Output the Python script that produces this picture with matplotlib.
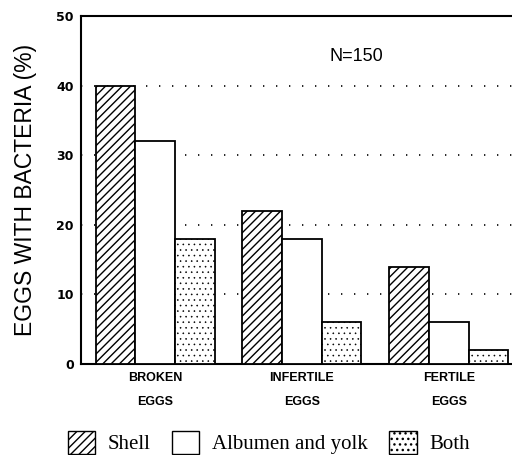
import matplotlib
matplotlib.use("Agg")
import matplotlib.pyplot as plt
from matplotlib.patches import Patch
import numpy as np

categories = ["BROKEN\nEGGS", "INFERTILE\nEGGS", "FERTILE\nEGGS"]
series_names = ["Shell", "Albumen and yolk", "Both"]
shell = [40, 22, 14]
albumen = [32, 18, 6]
both = [18, 6, 2]
yticks = [0, 10, 20, 30, 40, 50]

plt.rcParams['hatch.linewidth'] = 1.0
fig = plt.figure(figsize=(5.12, 4.55), dpi=100)
ax = fig.add_axes([0.158, 0.2, 0.842, 0.7648])

x = np.arange(len(categories))
w = 0.27
hatches = ["////", "", "..."]
for i, (vals, h) in enumerate(zip([shell, albumen, both], hatches)):
    bars = ax.bar(x + (i - 1) * w, vals, w, color="white", edgecolor="black",
                  linewidth=1.3, hatch=h, zorder=3, label=series_names[i])
    if h == "...":
        for b in bars:
            if hasattr(b, "set_hatch_linewidth"):
                b.set_hatch_linewidth(0.4)

ax.set_xlim(-0.505, 2.43)
ax.set_ylim(0, 50)
ax.set_yticks(yticks)
ax.set_yticklabels([str(v) for v in yticks], fontsize=9, fontweight="bold")
for yv in [10, 20, 30, 40]:
    ax.axhline(yv, color="black", lw=1.2, linestyle=(0, (0.8, 7)), zorder=1)
ax.set_xticks(x)
ax.set_xticklabels(categories, fontsize=9, family="Liberation Sans", fontweight="bold",
                   linespacing=2.3)
ax.tick_params(axis="both", length=0, pad=6)
ax.tick_params(axis="y", pad=5)
for s in ["left", "bottom", "top"]:
    ax.spines[s].set_linewidth(1.5)
ax.spines["right"].set_visible(False)

ax.set_ylabel("EGGS WITH BACTERIA (%)", fontsize=16.5, family="Liberation Sans", labelpad=14)
ax.text(0.64, 0.885, "N=150", transform=ax.transAxes, fontsize=13,
        family="Liberation Sans", ha="center", va="center")

handles = [Patch(facecolor="white", edgecolor="black", hatch=h, linewidth=1.0) for h in hatches]
fig.legend(handles, series_names, loc="center", bbox_to_anchor=(0.525, 0.027), ncol=3,
           frameon=False, prop={"family": "Liberation Serif", "size": 15},
           handlelength=1.3, handleheight=1.3, handletextpad=0.6, columnspacing=1.05)

fig.savefig("out.png", dpi=100)
